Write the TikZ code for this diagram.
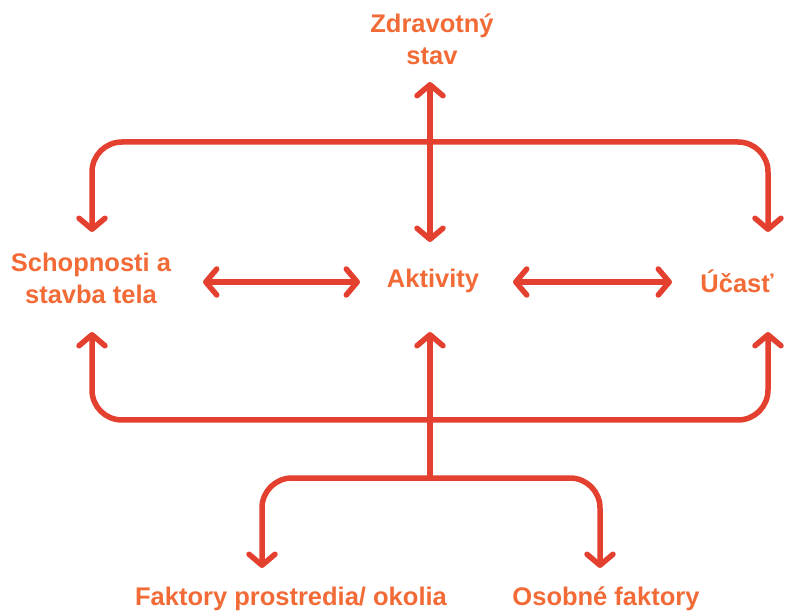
\documentclass[tikz,border=0pt]{standalone}
\usepackage{fontspec}
\setmainfont{Liberation Sans}
\usetikzlibrary{arrows.meta}
\definecolor{txt}{RGB}{242,106,54}
\definecolor{ln}{RGB}{228,64,48}
\begin{document}
\begin{tikzpicture}[x=1pt,y=-1pt,
  lbl/.style={font=\fontsize{25.5}{32}\selectfont\bfseries, text=txt, align=center, inner sep=0pt},
  conn/.style={draw=ln, line width=5.5pt, line cap=round, line join=round, rounded corners=30pt},
  >={Straight Barb[length=11pt,width=26pt,round]}]
\useasboundingbox (0,0) rectangle (785,612);
% labels
\node[lbl] (zdr) at (432,39) {Zdravotný\\stav};
\node[lbl] (akt) at (433,281) {Aktivity};
\node[lbl] (sch) at (91,278) {Schopnosti a\\stavba tela};
\node[lbl] (uca) at (737,281) {Účasť};
\node[lbl] (fak) at (291,599) {Faktory prostredia/ okolia};
\node[lbl] (oso) at (606,599) {Osobné faktory};
% connector ends
\coordinate (zdrA) at (430,82);
\coordinate (aktT) at (430,242);
\coordinate (aktB) at (430,332);
\coordinate (aktL) at (360,282);
\coordinate (aktR) at (513,282);
\coordinate (schR) at (203,282);
\coordinate (schT) at (92,232);
\coordinate (schB) at (92,332);
\coordinate (ucaL) at (672,282);
\coordinate (ucaT) at (768,232);
\coordinate (ucaB) at (768,332);
\coordinate (fakT) at (262,568);
\coordinate (osoT) at (600,568);
\coordinate (jTop) at (430,142);
\coordinate (jBot) at (430,420);
\coordinate (jLow) at (430,478);
% connectors
\draw[conn,<->] (zdrA) -- (aktT);
\draw[conn,<->] (schR) -- (aktL);
\draw[conn,<->] (aktR) -- (ucaL);
\draw[conn,<->] (schT) |- (jTop) -| (ucaT);
\draw[conn,<->] (schB) |- (jBot) -| (ucaB);
\draw[conn,->] (jLow) -- (aktB);
\draw[conn,<->] (fakT) |- (jLow) -| (osoT);
\end{tikzpicture}
\end{document}
